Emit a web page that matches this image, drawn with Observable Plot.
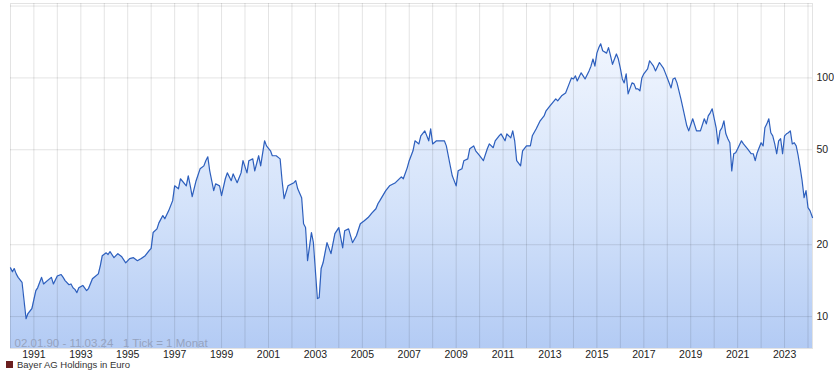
<!DOCTYPE html>
<html><head><meta charset="utf-8">
<script src="https://cdn.jsdelivr.net/npm/d3@7"></script>
<script src="https://cdn.jsdelivr.net/npm/@observablehq/plot@0.6"></script>
<style>
html,body{margin:0;padding:0;background:#fff;font-family:"Liberation Sans",Arial,sans-serif;overflow:hidden}
#chart svg{display:block}
#cap{font-size:9.5px;color:#333;margin:0 0 0 6px;line-height:10px;height:10px;white-space:nowrap}
#cap .sq{display:inline-block;width:7px;height:7px;background:#6b1f1f;margin-right:4px}
</style></head><body>
<div id="chart"></div>
<div id="cap"><span class="sq"></span>Bayer AG Holdings in Euro</div>
<script>
const dates = ["1990-01-02","1990-02","1990-03","1990-04","1990-05","1990-07","1990-09","1990-10","1990-12",
"1991-02","1991-03","1991-05","1991-06","1991-08","1991-10","1991-11",
"1992-01","1992-03","1992-04","1992-05","1992-07","1992-08","1992-09","1992-10","1992-11","1992-12",
"1993-02","1993-04","1993-05","1993-07","1993-10","1993-11","1993-12",
"1994-02","1994-03","1994-04","1994-06","1994-08","1994-10","1994-12",
"1995-02","1995-04","1995-06","1995-08","1995-10","1995-12",
"1996-01","1996-02","1996-04","1996-05","1996-07","1996-08","1996-10","1996-12",
"1997-01","1997-03","1997-04","1997-07","1997-08","1997-09","1997-10","1997-12",
"1998-02","1998-04","1998-05","1998-06","1998-07","1998-09","1998-10","1998-12",
"1999-01","1999-03","1999-04","1999-06","1999-07","1999-09","1999-11","1999-12",
"2000-02","2000-03","2000-05","2000-06","2000-08","2000-09","2000-11","2000-12",
"2001-02","2001-03","2001-05","2001-07","2001-08","2001-09","2001-11",
"2002-02","2002-03","2002-04","2002-06","2002-07","2002-08","2002-09","2002-11","2002-12",
"2003-02","2003-03","2003-04","2003-05","2003-07","2003-09","2003-11",
"2004-01","2004-03","2004-04","2004-06","2004-08","2004-10","2004-12",
"2005-02","2005-04","2005-06","2005-08","2005-09","2005-10",
"2006-01","2006-03","2006-06","2006-09","2006-10","2006-12",
"2007-01","2007-03","2007-04","2007-06","2007-07","2007-09","2007-11","2007-12",
"2008-01","2008-03","2008-05","2008-07","2008-08","2008-10","2008-11",
"2009-01","2009-02","2009-04","2009-05","2009-07","2009-08","2009-10","2009-11",
"2010-01","2010-03","2010-05","2010-06","2010-08","2010-09","2010-11","2010-12",
"2011-02","2011-03","2011-05","2011-06","2011-07","2011-08","2011-10","2011-11",
"2012-01","2012-03","2012-04","2012-06","2012-08","2012-10","2012-11",
"2013-01","2013-04","2013-05","2013-07","2013-09","2013-11","2013-12",
"2014-01","2014-02","2014-03","2014-05","2014-06","2014-07","2014-09","2014-10","2014-11","2014-12",
"2015-01","2015-02","2015-03","2015-04","2015-06","2015-07","2015-08","2015-09","2015-11","2015-12",
"2016-01","2016-02","2016-03","2016-04","2016-05","2016-07","2016-08","2016-09","2016-10","2016-11","2016-12",
"2017-01","2017-03","2017-04","2017-06","2017-07","2017-09","2017-11","2017-12",
"2018-01","2018-03","2018-04","2018-05","2018-06","2018-08","2018-09","2018-11","2018-12",
"2019-02","2019-04","2019-06","2019-08","2019-09","2019-10","2019-11","2019-12",
"2020-02","2020-03","2020-04","2020-05","2020-06","2020-07","2020-08","2020-09","2020-10","2020-11","2020-12",
"2021-01","2021-03","2021-04","2021-06","2021-08","2021-09","2021-10","2021-11",
"2022-01","2022-02","2022-03","2022-04","2022-05","2022-06","2022-07","2022-08","2022-09","2022-10","2022-11","2022-12",
"2023-01","2023-02","2023-03","2023-04","2023-05","2023-06","2023-07","2023-08","2023-09","2023-10","2023-11","2023-12",
"2024-01","2024-02","2024-03-11"];
const values = [16.0,15.4,15.9,15.1,14.6,13.9,9.8,10.3,10.8,
12.85,13.2,14.6,13.7,14.15,14.6,13.7,
14.8,15.0,14.6,14.15,13.6,13.7,13.2,13.0,12.6,13.2,
13.5,12.85,13.1,14.4,15.1,16.35,18.0,
18.5,18.2,18.7,17.65,18.35,17.8,16.8,
17.5,17.65,17.15,17.5,18.0,18.9,
19.3,22.5,23.3,24.7,26.5,25.7,27.8,30.6,
35.3,34.3,37.8,35.3,38.9,35.3,31.8,37.1,
41.6,42.8,45.0,46.7,40.8,33.7,36.0,35.3,
32.1,37.8,40.0,37.1,39.6,36.4,40.0,45.0,
40.0,45.0,45.8,40.8,47.2,42.8,54.5,51.9,
49.5,47.2,47.2,45.8,37.0,31.2,35.3,
36.4,37.1,34.3,31.5,24.5,23.6,17.15,22.5,20.4,
11.9,12.0,15.9,16.8,20.4,18.35,22.25,
23.6,19.4,22.9,23.3,20.4,21.8,24.5,
25.2,26.0,27.2,28.3,29.7,30.6,
33.7,35.3,36.4,38.5,37.8,42.0,
45.0,49.5,54.5,52.9,57.2,60.0,54.5,61.2,
52.9,54.5,54.5,54.5,51.9,42.8,38.9,
35.3,40.8,41.6,45.0,45.8,50.5,51.9,49.5,
47.2,45.0,50.5,52.9,51.0,54.5,57.2,58.3,
54.5,58.3,56.1,60.0,54.5,45.0,42.8,49.5,
51.9,51.9,57.2,61.2,66.1,69.3,72.8,
76.4,81.7,80.1,84.1,86.5,95.3,100,
99,102,97.1,105,102,99,107,112,120,112,
127,134,139,130,127,134,124,114,126,120,
110,99,95.3,104,85.7,95.3,94.4,89.9,89.9,88.2,100,
104,109,118,112,107,116,110,105,
100,90.8,99,100,95.3,81.7,74.9,63.0,60.0,
67.4,60.0,60.0,67.4,64.2,69.3,71.4,74.2,
61.8,52.9,60.0,61.8,66.1,58.3,55.6,53.5,40.8,48.1,48.6,
50.5,54.5,52.9,50.5,48.1,48.1,45.0,48.6,
53.5,51.9,61.8,64.2,67.4,58.9,57.2,52.9,48.1,54.5,55.6,48.1,
57.2,58.3,58.9,60.0,52.9,53.5,51.9,47.2,42.0,37.1,31.5,33.7,
28.6,27.8,26.0];
const yTicks = [10, 20, 50, 100];
const yDomain = [7.35, 205];
const xStart = "1990-01-02", xEnd = "2024-03-11";
const rangeLabel = "02.01.90 - 11.03.24   1 Tick = 1 Monat";

const data = dates.map((d, i) => ({date: new Date(d), value: values[i]}));
const gridYears = d3.utcYear.range(new Date("1991-01-01"), new Date("2025-01-01"));
const labelYears = gridYears.filter(d => d.getUTCFullYear() % 2 === 1);

const grad = () => {
  const defs = d3.create("svg:defs");
  const g = defs.append("linearGradient").attr("id", "ag").attr("x1", 0).attr("x2", 0).attr("y1", 0).attr("y2", 1);
  g.append("stop").attr("offset", "0%").attr("stop-color", "#f0f5fe");
  g.append("stop").attr("offset", "55%").attr("stop-color", "#d3e2fa");
  g.append("stop").attr("offset", "100%").attr("stop-color", "#b3cbf4");
  return defs.node();
};

const chart = Plot.plot({
  width: 834,
  height: 360,
  marginTop: 3,
  marginBottom: 12,
  marginLeft: 10,
  marginRight: 22,
  style: {fontFamily: "'Liberation Sans', Arial, sans-serif", fontSize: "10.5px", color: "#222", background: "#fff"},
  x: {type: "utc", domain: [new Date(xStart), new Date(xEnd)], label: null},
  y: {type: "log", domain: yDomain, label: null},
  marks: [
    grad,
    Plot.areaY(data, {x: "date", y1: yDomain[0], y2: "value", fill: "url(#ag)"}),
    Plot.gridX(gridYears, {stroke: "#000", strokeOpacity: 0.11}),
    Plot.gridY([...yTicks, 200], {stroke: "#000", strokeOpacity: 0.11}),
    Plot.frame({stroke: "#000", strokeOpacity: 0.11}),
    Plot.lineY(data, {x: "date", y: "value", stroke: "#2d5fbd", strokeWidth: 1.2}),
    Plot.text([rangeLabel], {frameAnchor: "bottom-left", dx: 4, dy: -2, fill: "#95a3bf", fontSize: 11.5}),
    Plot.axisX(labelYears, {tickSize: 0, tickPadding: 2, tickFormat: "%Y", fill: "#222", fontSize: 10.5, label: null}),
    Plot.axisY(yTicks, {anchor: "right", tickSize: 0, tickPadding: 4, tickFormat: d => String(d), fill: "#222", fontSize: 10.5, label: null})
  ]
});
document.getElementById("chart").appendChild(chart);
</script>
</body></html>
